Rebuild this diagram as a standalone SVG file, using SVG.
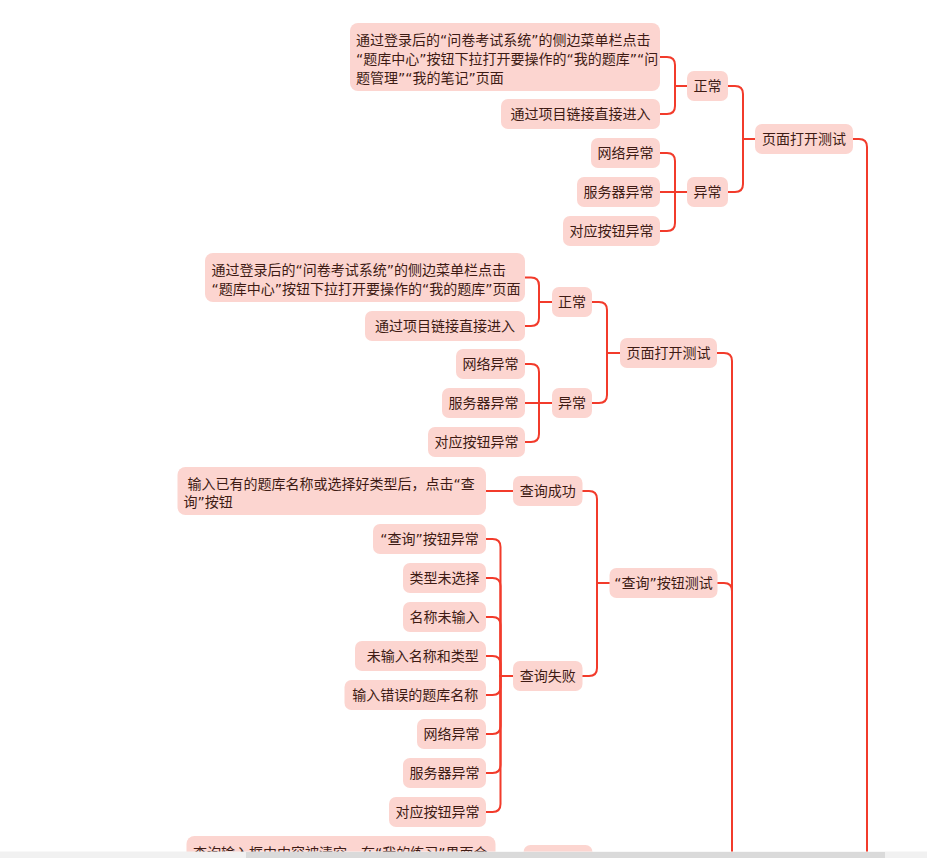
<svg xmlns="http://www.w3.org/2000/svg" width="927" height="858" viewBox="0 0 927 858">
<style>
.bg{fill:#ffffff}
.box{fill:#fcd5d0}
.t{font-family:"DejaVu Sans","Noto Sans CJK SC",sans-serif;font-size:14px;fill:#3e1b14}
.c{text-anchor:middle}
.pre{white-space:pre}
.ln{fill:none;stroke:#f23b2b;stroke-width:2;stroke-linecap:round;stroke-linejoin:round}
</style>
<rect class="bg" x="0" y="0" width="927" height="858"/>

<g id="connectors">
  <path class="ln" d="M660 57 H667 Q675 57 675 65 V86 H687"/>
  <path class="ln" d="M660 114 H667 Q675 114 675 106 V86 H687"/>
  <path class="ln" d="M660 153 H667 Q675 153 675 161 V192 H687"/>
  <path class="ln" d="M660 192 H687"/>
  <path class="ln" d="M660 231 H667 Q675 231 675 223 V192 H687"/>
  <path class="ln" d="M728 86 H735 Q743 86 743 94 V139 H755"/>
  <path class="ln" d="M728 192 H735 Q743 192 743 184 V139 H755"/>
  <path class="ln" d="M853 139 H859 Q867 139 867 147 V860"/>

  <path class="ln" d="M525 277.5 H531 Q539 277.5 539 285.5 V302 H552"/>
  <path class="ln" d="M525 326 H531 Q539 326 539 318 V302 H552"/>
  <path class="ln" d="M525 364 H531 Q539 364 539 372 V403 H552"/>
  <path class="ln" d="M525 403 H552"/>
  <path class="ln" d="M525 442 H531 Q539 442 539 434 V403 H552"/>
  <path class="ln" d="M592 302 H599 Q607 302 607 310 V353 H620"/>
  <path class="ln" d="M592 403 H599 Q607 403 607 395 V353 H620"/>
  <path class="ln" d="M717 353 H724 Q732 353 732 361 V860"/>

  <path class="ln" d="M486 491 H513"/>
  <path class="ln" d="M486 539 H492.5 Q500.5 539 500.5 547 V676 H513"/>
  <path class="ln" d="M486 578 H492.5 Q500.5 578 500.5 586 V676 H513"/>
  <path class="ln" d="M486 617 H492.5 Q500.5 617 500.5 625 V676 H513"/>
  <path class="ln" d="M486 656 H492.5 Q500.5 656 500.5 664 V676 H513"/>
  <path class="ln" d="M486 695 H492.5 Q500.5 695 500.5 687 V676 H513"/>
  <path class="ln" d="M486 734 H492.5 Q500.5 734 500.5 726 V676 H513"/>
  <path class="ln" d="M486 773 H492.5 Q500.5 773 500.5 765 V676 H513"/>
  <path class="ln" d="M486 812 H492.5 Q500.5 812 500.5 804 V676 H513"/>
  <path class="ln" d="M582.5 491 H589 Q597 491 597 499 V583 H609.5"/>
  <path class="ln" d="M582.5 676 H589 Q597 676 597 668 V583 H609.5"/>
  <path class="ln" d="M717.5 583 H724 Q732 583 732 591 V600"/>
</g>

<g id="n1"><rect class="box" x="755" y="124" width="98" height="30" rx="7"/><text class="t c" x="804" y="144">页面打开测试</text></g>
<g id="n1a"><rect class="box" x="687" y="71" width="41" height="30" rx="7"/><text class="t c" x="707.5" y="91">正常</text></g>
<g id="n1b"><rect class="box" x="687" y="177" width="41" height="30" rx="7"/><text class="t c" x="707.5" y="197">异常</text></g>
<g id="n1a1"><rect class="box" x="350" y="23" width="310" height="68" rx="8"/>
  <text class="t" x="356" y="44.5">通过登录后的“问卷考试系统”的侧边菜单栏点击</text>
  <text class="t" x="356" y="63.5">“题库中心”按钮下拉打开要操作的“我的题库”“问</text>
  <text class="t" x="356" y="82.5">题管理”“我的笔记”页面</text></g>
<g id="n1a2"><rect class="box" x="501" y="99" width="159" height="30" rx="7"/><text class="t c" x="580.5" y="119">通过项目链接直接进入</text></g>
<g id="n1b1"><rect class="box" x="591" y="138" width="69" height="30" rx="7"/><text class="t c" x="625.5" y="158">网络异常</text></g>
<g id="n1b2"><rect class="box" x="577" y="177" width="83" height="30" rx="7"/><text class="t c" x="618.5" y="197">服务器异常</text></g>
<g id="n1b3"><rect class="box" x="563" y="216" width="97" height="30" rx="7"/><text class="t c" x="611.5" y="236">对应按钮异常</text></g>

<g id="n2"><rect class="box" x="620" y="338" width="97" height="30" rx="7"/><text class="t c" x="668.5" y="358">页面打开测试</text></g>
<g id="n2a"><rect class="box" x="552" y="287" width="40" height="30" rx="7"/><text class="t c" x="572" y="307">正常</text></g>
<g id="n2b"><rect class="box" x="552" y="388" width="40" height="30" rx="7"/><text class="t c" x="572" y="408">异常</text></g>
<g id="n2a1"><rect class="box" x="205" y="253" width="320" height="49" rx="8"/>
  <text class="t" x="211.5" y="275">通过登录后的“问卷考试系统”的侧边菜单栏点击</text>
  <text class="t" x="211.5" y="293.5">“题库中心”按钮下拉打开要操作的“我的题库”页面</text></g>
<g id="n2a2"><rect class="box" x="365" y="311" width="160" height="30" rx="7"/><text class="t c" x="445" y="331">通过项目链接直接进入</text></g>
<g id="n2b1"><rect class="box" x="456" y="349" width="69" height="30" rx="7"/><text class="t c" x="490.5" y="369">网络异常</text></g>
<g id="n2b2"><rect class="box" x="442" y="388" width="83" height="30" rx="7"/><text class="t c" x="483.5" y="408">服务器异常</text></g>
<g id="n2b3"><rect class="box" x="428" y="427" width="97" height="30" rx="7"/><text class="t c" x="476.5" y="447">对应按钮异常</text></g>

<g id="n3"><rect class="box" x="609.5" y="568" width="108" height="30" rx="7"/><text class="t c" x="663.5" y="588">“查询”按钮测试</text></g>
<g id="n3a"><rect class="box" x="513" y="476" width="69.5" height="30" rx="7"/><text class="t c" x="547.75" y="496">查询成功</text></g>
<g id="n3b"><rect class="box" x="513" y="661" width="69.5" height="30" rx="7"/><text class="t c" x="547.75" y="681">查询失败</text></g>
<g id="n3a1"><rect class="box" x="177.5" y="467" width="308.5" height="48" rx="8"/>
  <text class="t pre" x="183" y="488.5"> 输入已有的题库名称或选择好类型后，点击“查</text>
  <text class="t" x="183.5" y="507">询”按钮</text></g>
<g id="n3b1"><rect class="box" x="373" y="524" width="113" height="30" rx="7"/><text class="t c" x="429.5" y="544">“查询”按钮异常</text></g>
<g id="n3b2"><rect class="box" x="403" y="563" width="83" height="30" rx="7"/><text class="t c" x="444.5" y="583">类型未选择</text></g>
<g id="n3b3"><rect class="box" x="403" y="602" width="83" height="30" rx="7"/><text class="t c" x="444.5" y="622">名称未输入</text></g>
<g id="n3b4"><rect class="box" x="355" y="641" width="131" height="30" rx="7"/><text class="t c pre" x="420.5" y="661"> 未输入名称和类型</text></g>
<g id="n3b5"><rect class="box" x="344.5" y="680" width="141.5" height="30" rx="7"/><text class="t c" x="415.25" y="700">输入错误的题库名称</text></g>
<g id="n3b6"><rect class="box" x="417" y="719" width="69" height="30" rx="7"/><text class="t c" x="451.5" y="739">网络异常</text></g>
<g id="n3b7"><rect class="box" x="403" y="758" width="83" height="30" rx="7"/><text class="t c" x="444.5" y="778">服务器异常</text></g>
<g id="n3b8"><rect class="box" x="389" y="797" width="97" height="30" rx="7"/><text class="t c" x="437.5" y="817">对应按钮异常</text></g>

<g id="n4"><rect class="box" x="186.5" y="836" width="309" height="60" rx="8"/>
  <text class="t" x="193" y="857.5">查询输入框中内容被清空，在“我的练习”界面会</text></g>
<g id="n5"><rect class="box" x="523.5" y="845" width="69" height="30" rx="7"/></g>

<g id="scrollbar">
  <rect x="0" y="851.5" width="927" height="6.5" fill="#f1f1f1"/>
  <rect x="246" y="852" width="639" height="6" fill="#dadada"/>
</g>
</svg>
